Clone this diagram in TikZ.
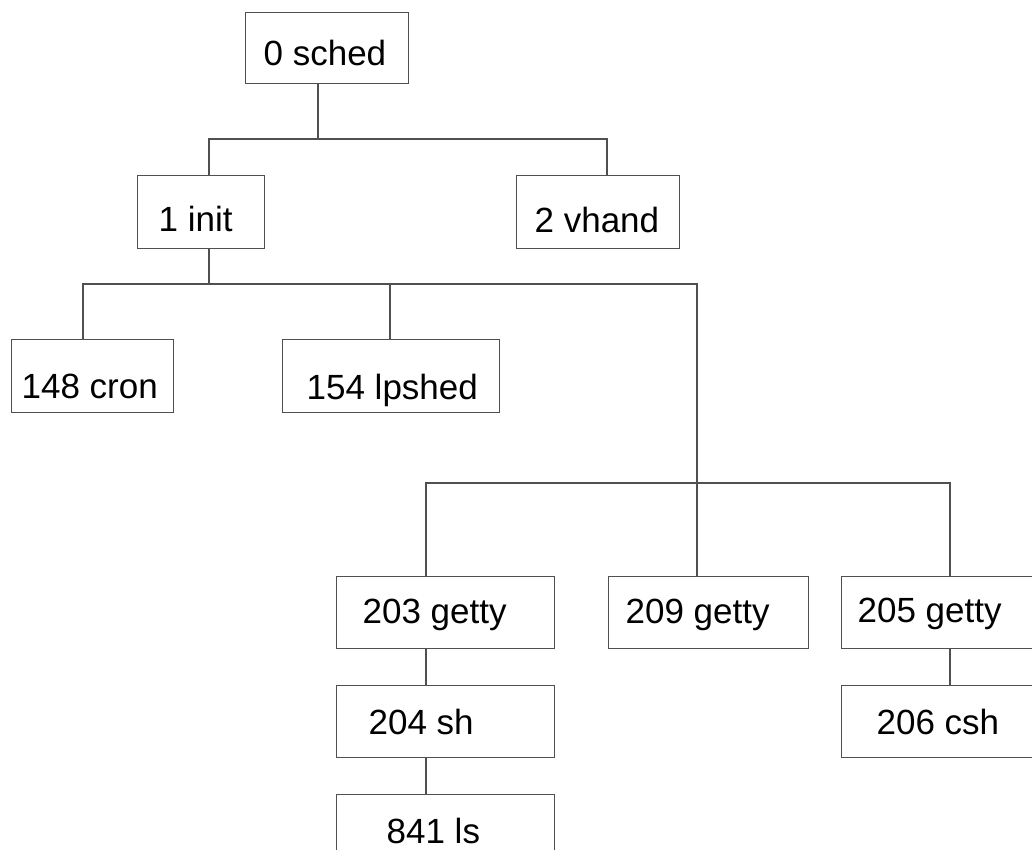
\documentclass[tikz,border=0pt]{standalone}
\usepackage{fontspec}
\setmainfont{Liberation Sans}
\definecolor{linec}{HTML}{505050}
% box label: width, left padding, downward shift, text
\newcommand{\plabel}[4]{\raisebox{-#3pt}{\makebox[#1pt][l]{\hspace*{#2pt}#4}}}
\begin{document}
\begin{tikzpicture}[x=1pt,y=-1pt,
  proc/.style={draw=linec, line width=1.3pt, inner sep=0pt, anchor=north west,
    text height=25pt, text depth=0pt, font=\fontsize{35}{40}\selectfont},
  link/.style={draw=linec, line width=1.3pt}]
\useasboundingbox (0,0) rectangle (1032,850);
\clip (0,0) rectangle (1032,850);

% process boxes
\node[proc, minimum width=163, minimum height=71] (sched) at (245,12) {\plabel{163}{18}{4.5}{0 sched}};
\node[proc, minimum width=127, minimum height=73] (init) at (137,175) {\plabel{127}{21}{7}{1 init}};
\node[proc, minimum width=163, minimum height=73] (vhand) at (516,175) {\plabel{163}{18}{7.5}{2 vhand}};
\node[proc, minimum width=162, minimum height=73] (cron) at (11,339) {\plabel{162}{10}{10}{148 cron}};
\node[proc, minimum width=217, minimum height=73] (lpshed) at (282,339) {\plabel{217}{24}{10.5}{154 lpshed}};
\node[proc, minimum width=218, minimum height=72] (g203) at (336,576) {\plabel{218}{26}{-2}{203 getty}};
\node[proc, minimum width=200, minimum height=72] (g209) at (608,576) {\plabel{200}{17}{-2}{209 getty}};
\node[proc, minimum width=204, minimum height=72] (g205) at (841,576) {\plabel{204}{16}{-2.5}{205 getty}};
\node[proc, minimum width=218, minimum height=72] (sh) at (336,685) {\plabel{218}{32}{0}{204 sh}};
\node[proc, minimum width=204, minimum height=72] (csh) at (841,685) {\plabel{204}{35}{0}{206 csh}};
\node[proc, minimum width=218, minimum height=73] (ls) at (336,794) {\plabel{218}{50}{0}{841 ls}};

% junction points of the tree
\coordinate (b0) at (318,139);
\coordinate (s1) at (209,139);
\coordinate (s2) at (607,139);
\coordinate (i0) at (209,284);
\coordinate (c1) at (83,284);
\coordinate (c2) at (390,284);
\coordinate (c3) at (697,284);
\coordinate (d1) at (426,483);
\coordinate (d2) at (950,483);

% connectors
\draw[link] (b0 |- sched.south) -- (b0);
\draw[link] (s1 |- init.north) -- (s1) -- (s2) -- (s2 |- vhand.north);
\draw[link] (i0 |- init.south) -- (i0);
\draw[link] (c1 |- cron.north) -- (c1) -- (c3) -- (c3 |- g209.north);
\draw[link] (c2) -- (c2 |- lpshed.north);
\draw[link] (d1 |- g203.north) -- (d1) -- (d2) -- (d2 |- g205.north);
\draw[link] (d1 |- g203.south) -- (d1 |- sh.north);
\draw[link] (d1 |- sh.south) -- (d1 |- ls.north);
\draw[link] (d2 |- g205.south) -- (d2 |- csh.north);
\end{tikzpicture}
\end{document}
